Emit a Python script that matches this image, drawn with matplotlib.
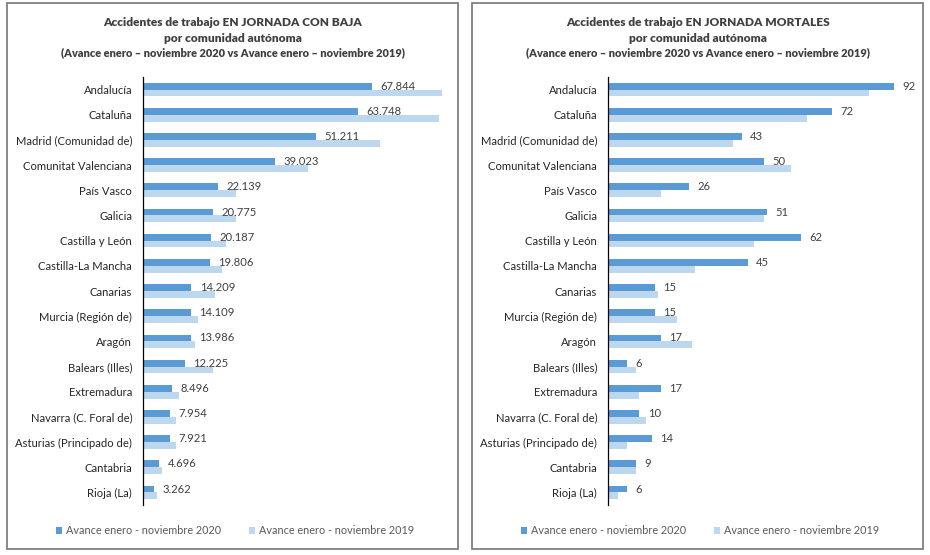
import matplotlib
matplotlib.use("Agg")
import matplotlib.pyplot as plt
from matplotlib.patches import Rectangle
import numpy as np

plt.rcParams['font.family'] = ['Lato', 'DejaVu Sans']

# Comunidades autónomas (same order in both charts)
regiones = ['Andalucía', 'Cataluña', 'Madrid (Comunidad de)', 'Comunitat Valenciana',
            'País Vasco', 'Galicia', 'Castilla y León', 'Castilla-La Mancha', 'Canarias',
            'Murcia (Región de)', 'Aragón', 'Balears (Illes)', 'Extremadura',
            'Navarra (C. Foral de)', 'Asturias (Principado de)', 'Cantabria', 'Rioja (La)']

# Con baja
baja_2020 = [67844, 63748, 51211, 39023, 22139, 20775, 20187, 19806, 14209,
             14109, 13986, 12225, 8496, 7954, 7921, 4696, 3262]
baja_2019 = [88500, 87500, 70000, 48700, 27450, 27350, 24600, 23300, 21300,
             16200, 15400, 20600, 10470, 9780, 9750, 5530, 3950]

# Mortales
mort_2020 = [92, 72, 43, 50, 26, 51, 62, 45, 15, 15, 17, 6, 17, 10, 14, 9, 6]
mort_2019 = [84, 64, 40, 59, 17, 50, 47, 28, 16, 22, 27, 9, 10, 12, 6, 9, 3]

serie_2020 = 'Avance enero - noviembre 2020'
serie_2019 = 'Avance enero - noviembre 2019'
titulo_baja = ('Accidentes de trabajo EN JORNADA CON BAJA', 'por comunidad autónoma',
               '(Avance enero – noviembre 2020 vs Avance enero – noviembre 2019)')
titulo_mort = ('Accidentes de trabajo EN JORNADA MORTALES', 'por comunidad autónoma',
               '(Avance enero – noviembre 2020 vs Avance enero – noviembre 2019)')

c2020 = '#5B9BD5'
c2019 = '#BDD7EE'

W, H = 930, 555
fig = plt.figure(figsize=(9.3, 5.55), dpi=100)


def px(x0, y0, x1, y1):
    # pixel box (top-left origin) -> figure fraction [l, b, w, h]
    return [x0 / W, (H - y1) / H, (x1 - x0) / W, (y1 - y0) / H]


def panel(x_off, v20, v19, xmax, ax_width, fmt, titulo):
    # border of the panel
    l, b, w, h = px(x_off + 7, 3, x_off + 458, 549)
    fig.patches.append(Rectangle((l, b), w, h, transform=fig.transFigure,
                                 fill=False, edgecolor='#7f7f7f', linewidth=1.3))

    ax = fig.add_axes(px(x_off + 143.3, 77, x_off + 143.3 + ax_width, 505))
    y = np.arange(len(regiones))
    bh = 0.27
    ax.barh(y - bh / 2, v20, height=bh, color=c2020, label=serie_2020)
    ax.barh(y + bh / 2, v19, height=bh, color=c2019, label=serie_2019)
    for yi, v in zip(y, v20):
        ax.annotate(fmt(v), (v, yi - bh / 2), xytext=(6, 0), textcoords='offset points',
                    va='center', ha='left', fontsize=8.1, color='#404040')
    ax.set_ylim(len(regiones) - 0.5, -0.5)
    ax.set_xlim(0, xmax)
    ax.set_yticks(y)
    ax.set_yticklabels(regiones, fontsize=8.1, color='#262626')
    ax.tick_params(axis='y', length=0, pad=8)
    ax.set_xticks([])
    for s in ['top', 'right', 'bottom']:
        ax.spines[s].set_visible(False)
    ax.spines['left'].set_color('#000000')
    ax.spines['left'].set_linewidth(0.9)
    ax.patch.set_alpha(0)

    cx = (x_off + 233) / W
    fig.text(cx, (H - 23) / H, titulo[0], ha='center', va='center', fontsize=8.6,
             fontweight='heavy', color='#404040')
    fig.text(cx, (H - 38) / H, titulo[1], ha='center', va='center', fontsize=8.6,
             fontweight='heavy', color='#404040')
    fig.text(cx, (H - 53) / H, titulo[2], ha='center', va='center', fontsize=7.9,
             fontweight='heavy', color='#404040')

    handles, labels = ax.get_legend_handles_labels()
    fig.legend(handles, labels, loc='center', bbox_to_anchor=((x_off + 235) / W, (H - 531) / H),
               ncol=2, frameon=False, fontsize=7.8, labelcolor='#595959',
               handlelength=0.55, handleheight=0.55, handletextpad=0.35, columnspacing=2.6)


panel(0, baja_2020, baja_2019, 90000, 303.8,
      lambda v: f'{v:,}'.replace(',', '.'), titulo_baja)
panel(465, mort_2020, mort_2019, 100, 310.5, lambda v: str(v), titulo_mort)

fig.savefig('out.png', dpi=100)
